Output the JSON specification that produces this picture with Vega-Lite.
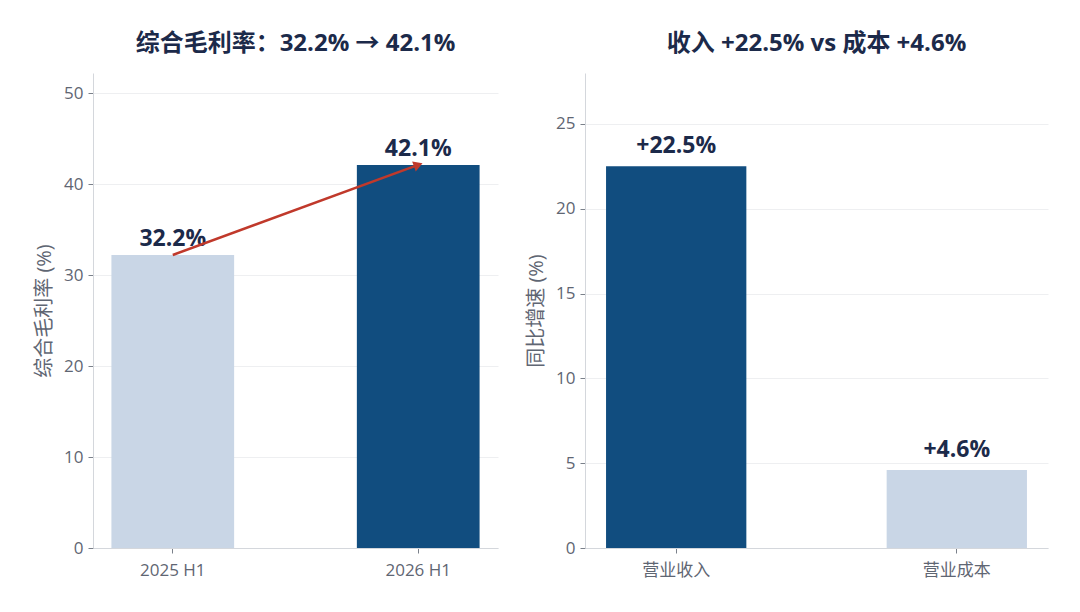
{
  "$schema": "https://vega.github.io/schema/vega-lite/v6.json",
  "background": "#ffffff",
  "padding": {"left": 34, "top": 32, "right": 20, "bottom": 10},
  "spacing": 28,
  "resolve": {"scale": {"color": "independent"}},
  "config": {
    "font": "Open Sans, Noto Sans CJK SC",
    "view": {"stroke": null},
    "axis": {
      "domainColor": "#d4d7dc",
      "tickColor": "#7a808a",
      "tickSize": 5,
      "labelPadding": 5,
      "labelColor": "#5f6673",
      "labelFontSize": 17,
      "labelFont": "Open Sans, Noto Sans CJK SC",
      "titleFont": "Open Sans, Noto Sans CJK SC",
      "titleColor": "#5f6673",
      "titleFontSize": 20,
      "titleFontWeight": "normal",
      "gridColor": "#eeeff1"
    },
    "title": {"fontSize": 24, "fontWeight": "bold", "color": "#1c2a4a", "offset": 17, "font": "Open Sans, Noto Sans CJK SC"}
  },
  "datasets": {
    "margin": [
      {"period": "2025 H1", "value": 32.2, "label": "32.2%"},
      {"period": "2026 H1", "value": 42.1, "label": "42.1%"}
    ],
    "arrow": [
      {"from": "2025 H1", "to": "2026 H1", "start": 32.2, "end": 42.1, "note": "+9.9 pct"}
    ],
    "growth": [
      {"item": "营业收入", "value": 22.5, "label": "+22.5%"},
      {"item": "营业成本", "value": 4.6, "label": "+4.6%"}
    ]
  },
  "hconcat": [
    {
      "title": "综合毛利率：32.2% → 42.1%",
      "width": 405,
      "height": 475,
      "data": {"name": "margin"},
      "encoding": {
        "x": {
          "field": "period",
          "type": "nominal",
          "title": null,
          "sort": null,
          "scale": {"paddingInner": 0.5, "paddingOuter": 0.075},
          "axis": {"labelAngle": 0, "labelPadding": 9}
        },
        "y": {
          "field": "value",
          "type": "quantitative",
          "title": "综合毛利率 (%)",
          "scale": {"domain": [0, 52.2], "nice": false},
          "axis": {"values": [0, 10, 20, 30, 40, 50], "titlePadding": 9}
        }
      },
      "layer": [
        {
          "mark": {"type": "bar"},
          "encoding": {
            "color": {
              "field": "period",
              "type": "nominal",
              "scale": {"domain": ["2025 H1", "2026 H1"], "range": ["#c9d6e6", "#114d7f"]},
              "legend": null
            }
          }
        },
        {
          "mark": {"type": "text", "baseline": "bottom", "dy": -4, "fontSize": 23, "fontWeight": "bold", "color": "#1c2a4a"},
          "encoding": {"text": {"field": "label"}}
        },
        {
          "data": {"name": "arrow"},
          "mark": {"type": "rule", "color": "#c0392b", "strokeWidth": 2.5},
          "encoding": {
            "x": {"field": "from", "type": "nominal"},
            "x2": {"field": "to"},
            "y": {"field": "start", "type": "quantitative"},
            "y2": {"field": "end"}
          }
        },
        {
          "data": {"name": "arrow"},
          "mark": {"type": "point", "shape": "triangle-right", "filled": true, "color": "#c0392b", "opacity": 1, "size": 110, "angle": -20},
          "encoding": {
            "x": {"field": "to", "type": "nominal"},
            "y": {"field": "end", "type": "quantitative"}
          }
        },
        {
          "data": {"name": "arrow"},
          "mark": {"type": "text", "align": "right", "baseline": "middle", "dx": -14, "dy": 2, "fontSize": 21, "fontWeight": "bold", "color": "#c0392b"},
          "encoding": {
            "x": {"field": "to", "type": "nominal", "bandPosition": 0},
            "y": {"datum": 40.2, "type": "quantitative"},
            "text": {"field": "note"}
          }
        }
      ]
    },
    {
      "title": "收入 +22.5% vs 成本 +4.6%",
      "width": 463,
      "height": 475,
      "data": {"name": "growth"},
      "encoding": {
        "x": {
          "field": "item",
          "type": "nominal",
          "title": null,
          "sort": null,
          "scale": {"paddingInner": 0.5, "paddingOuter": 0.075},
          "axis": {"labelAngle": 0, "labelPadding": 9}
        },
        "y": {
          "field": "value",
          "type": "quantitative",
          "title": "同比增速 (%)",
          "scale": {"domain": [0, 28], "nice": false},
          "axis": {"values": [0, 5, 10, 15, 20, 25], "titlePadding": 9}
        }
      },
      "layer": [
        {
          "mark": {"type": "bar"},
          "encoding": {
            "color": {
              "field": "item",
              "type": "nominal",
              "scale": {"domain": ["营业收入", "营业成本"], "range": ["#114d7f", "#c9d6e6"]},
              "legend": null
            }
          }
        },
        {
          "mark": {"type": "text", "baseline": "bottom", "dy": -8, "fontSize": 23, "fontWeight": "bold", "color": "#1c2a4a"},
          "encoding": {"text": {"field": "label"}}
        }
      ]
    }
  ]
}
